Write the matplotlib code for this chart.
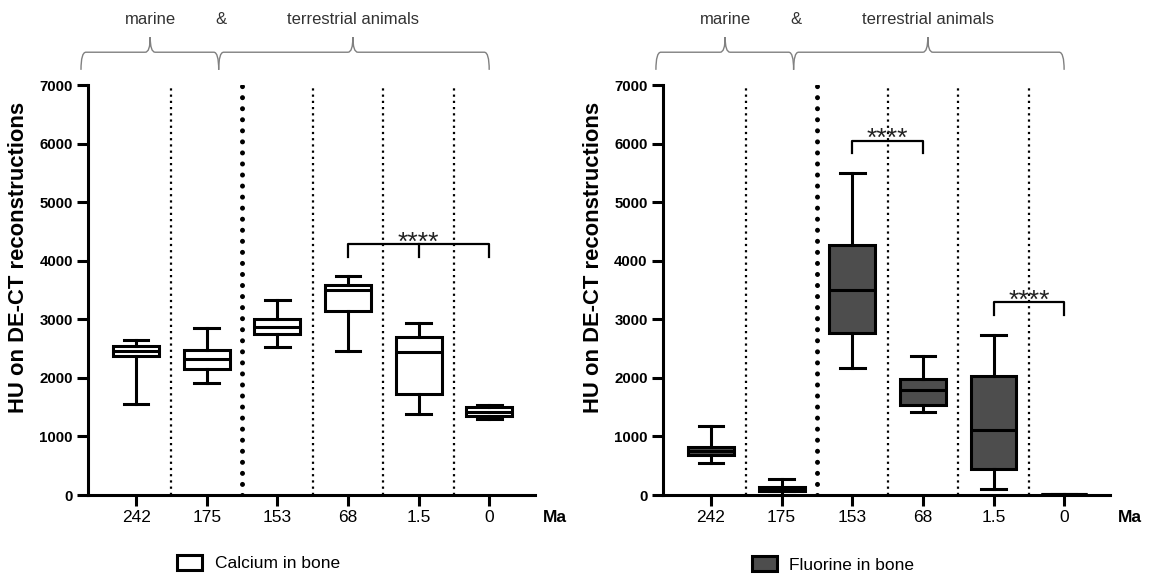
import matplotlib
matplotlib.use("Agg")
import matplotlib.pyplot as plt
from matplotlib.path import Path
from matplotlib.patches import PathPatch, Patch
import matplotlib.transforms as mtransforms

plt.rcParams['font.family'] = ['Liberation Sans', 'DejaVu Sans']

# categories (age in Ma)
ages = ['242', '175', '153', '68', '1.5', '0']

# Calcium in bone: whisker low, Q1, median, Q3, whisker high
ca_low = [1550, 1920, 2520, 2460, 1380, 1300]
ca_q1 = [2370, 2160, 2750, 3140, 1720, 1350]
ca_med = [2460, 2330, 2870, 3500, 2450, 1420]
ca_q3 = [2540, 2470, 3010, 3590, 2700, 1500]
ca_high = [2645, 2860, 3330, 3740, 2935, 1535]

# Fluorine in bone
f_low = [540, 0, 2170, 1420, 100, 5]
f_q1 = [680, 63, 2770, 1530, 440, 10]
f_med = [745, 97, 3500, 1800, 1105, 12]
f_q3 = [815, 131, 4265, 1985, 2030, 15]
f_high = [1170, 267, 5500, 2375, 2735, 25]

# significance brackets: (from index, to index, middle ticks, height)
ca_sig = [(3, 5, [4], 4280)]
f_sig = [(2, 3, [], 6050), (4, 5, [], 3290)]

LW = 2.2


def make_stats(lo, q1, med, q3, hi):
    return [dict(whislo=a, q1=b, med=c, q3=d, whishi=e, fliers=[])
            for a, b, c, d, e in zip(lo, q1, med, q3, hi)]


def brace(ax, xa, xb, xt, y0=1.037, y1=1.080, y2=1.117, r=0.07):
    trans = mtransforms.blended_transform_factory(ax.transData, ax.transAxes)
    verts = [(xa, y0), (xa, y1), (xa + r, y1), (xt - r, y1), (xt, y1), (xt, y2),
             (xt, y2), (xt, y1), (xt + r, y1), (xb - r, y1), (xb, y1), (xb, y0)]
    codes = [Path.MOVETO, Path.CURVE3, Path.CURVE3, Path.LINETO, Path.CURVE3, Path.CURVE3,
             Path.MOVETO, Path.CURVE3, Path.CURVE3, Path.LINETO, Path.CURVE3, Path.CURVE3]
    ax.add_patch(PathPatch(Path(verts, codes), fill=False, edgecolor='#808080',
                           lw=1.0, transform=trans, clip_on=False))


def draw_panel(ax, stats, fill, sig):
    pos = list(range(len(ages)))
    ax.bxp(stats, positions=pos, widths=0.65, capwidths=0.35, patch_artist=True,
           showfliers=False,
           boxprops=dict(facecolor=fill, edgecolor='black', lw=LW),
           whiskerprops=dict(color='black', lw=LW),
           capprops=dict(color='black', lw=LW),
           medianprops=dict(color='black', lw=LW))

    # separators between groups
    for x in [0.5, 1.5, 2.5, 3.5, 4.5]:
        if x == 1.5:
            ax.plot([x, x], [0, 7000], color='black', lw=3.6,
                    dashes=(0.01, 2.2), dash_capstyle='round', zorder=1)
        else:
            ax.plot([x, x], [0, 7000], color='black', lw=1.6,
                    dashes=(1, 1.8), zorder=1)

    for a, b, mids, h in sig:
        ax.plot([pos[a], pos[a], pos[b], pos[b]], [h - 210, h, h, h - 210],
                color='black', lw=1.6, zorder=3)
        for m in mids:
            ax.plot([pos[m], pos[m]], [h, h - 210], color='black', lw=1.6, zorder=3)
        ax.annotate('****', xy=((pos[a] + pos[b]) / 2, h), xytext=(0, -4),
                    textcoords='offset points', ha='center', va='baseline',
                    fontsize=19, color='#222222')

    ax.set_xlim(-0.68, 5.65)
    ax.set_ylim(0, 7000)
    ax.set_xticks(pos)
    ax.set_xticklabels(ages, fontsize=12.5)
    ax.set_yticks(range(0, 7001, 1000))
    ax.set_yticklabels([str(v) for v in range(0, 7001, 1000)], fontsize=10.8,
                       fontweight='bold')
    ax.set_ylabel('HU on DE-CT reconstructions', fontsize=15.8, fontweight='bold')
    ax.yaxis.set_label_coords(-0.132, 0.579)
    for s in ['top', 'right']:
        ax.spines[s].set_visible(False)
    for s in ['left', 'bottom']:
        ax.spines[s].set_linewidth(LW)
    ax.tick_params(axis='both', length=8, width=LW, pad=3)
    ax.text(1.018, -0.056, 'Ma', transform=ax.transAxes, fontsize=12.5,
            fontweight='bold', ha='left', va='center')

    brace(ax, -0.78, 1.17, 0.2)
    brace(ax, 1.17, 5.0, 3.07)
    trans = mtransforms.blended_transform_factory(ax.transData, ax.transAxes)
    for x, t in [(0.2, 'marine'), (1.2, '&'), (3.07, 'terrestrial animals')]:
        ax.text(x, 1.159, t, transform=trans, ha='center', va='center',
                fontsize=12, color='#333333')


fig = plt.figure(figsize=(11.54, 5.76), dpi=100)
ax1 = fig.add_axes([0.0763, 0.1406, 0.3874, 0.7118])
ax2 = fig.add_axes([0.5745, 0.1406, 0.3874, 0.7118])

draw_panel(ax1, make_stats(ca_low, ca_q1, ca_med, ca_q3, ca_high), 'white', ca_sig)
draw_panel(ax2, make_stats(f_low, f_q1, f_med, f_q3, f_high), '#4d4d4d', f_sig)

ax1.legend(handles=[Patch(facecolor='white', edgecolor='black', lw=LW,
                          label='Calcium in bone')],
           loc='center left', bbox_to_anchor=(0.14, 0.022),
           bbox_transform=fig.transFigure, frameon=False, fontsize=12.5,
           handlelength=1.45, handleheight=0.9, handletextpad=0.7)
ax2.legend(handles=[Patch(facecolor='#4d4d4d', edgecolor='black', lw=LW,
                          label='Fluorine in bone')],
           loc='center left', bbox_to_anchor=(0.638, 0.02),
           bbox_transform=fig.transFigure, frameon=False, fontsize=12.5,
           handlelength=1.45, handleheight=0.9, handletextpad=0.7)

fig.savefig('out.png', dpi=100)
